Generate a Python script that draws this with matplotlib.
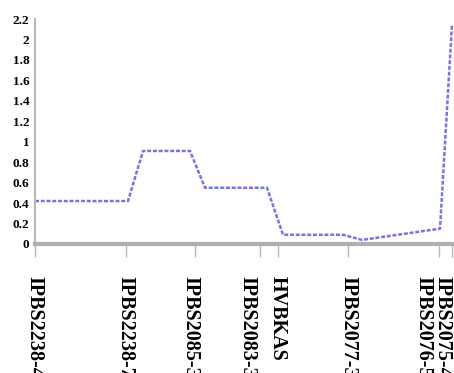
import matplotlib
matplotlib.use('Agg')
import matplotlib.pyplot as plt

# marker positions along the linkage group (cM) and their names
marker_pos = [0, 22.75, 40.0, 56.25, 60.75, 78.25, 101.0, 104.25]
marker_names = ['IPBS2238-4', 'IPBS2238-7', 'IPBS2085-3', 'IPBS2083-3',
                'HVBKAS', 'IPBS2077-3', 'IPBS2076-5', 'IPBS2075-4']

# LOD profile along the group
profile_pos = [0, 23.25, 27.0, 38.75, 42.5, 58.0, 62.0, 77.0, 81.75, 101.25, 104.25]
profile_lod = [0.42, 0.42, 0.91, 0.91, 0.55, 0.55, 0.09, 0.09, 0.04, 0.15, 2.15]

y_ticks = [0, 0.2, 0.4, 0.6, 0.8, 1, 1.2, 1.4, 1.6, 1.8, 2, 2.2]

# label nudges (pixels) so crowded names don't collide
label_shift = [-1, -1, -5, -13, 0, 0, -16, -10]

plt.rcParams['font.family'] = ['Liberation Serif', 'DejaVu Serif']

fig = plt.figure(figsize=(4.54, 3.73), dpi=100)
ax = fig.add_axes([35 / 454, 129 / 373, 1 - 35 / 454, 225 / 373])

ax.plot(profile_pos, profile_lod, color='#7676dc', linewidth=1.8,
        linestyle=(0, (1.6, 0.7)))

ax.set_xlim(0, 104.75)
ax.set_ylim(0, 2.2)

ax.set_yticks(y_ticks)
ax.set_yticklabels([f'{v:g}' for v in y_ticks], fontsize=9.5, fontweight='bold')
ax.tick_params(axis='y', length=0, pad=4)

ax.set_xticks(marker_pos)
ax.set_xticklabels([])
ax.tick_params(axis='x', length=9, width=1, color='#b8b8b8', direction='out')

for s in ['top', 'right']:
    ax.spines[s].set_visible(False)
ax.spines['left'].set_color('#b8b8b8')
ax.spines['left'].set_linewidth(1.5)
ax.spines['bottom'].set_color('#b0b0b0')
ax.spines['bottom'].set_linewidth(3)

for pos, name, dx in zip(marker_pos, marker_names, label_shift):
    ax.annotate(name, xy=(pos, 0), xycoords=('data', 'axes fraction'),
                xytext=(dx, -32), textcoords='offset pixels',
                rotation=270, ha='center', va='top',
                fontsize=14.5, fontweight='bold', annotation_clip=False)

fig.savefig('out.png', dpi=100)
